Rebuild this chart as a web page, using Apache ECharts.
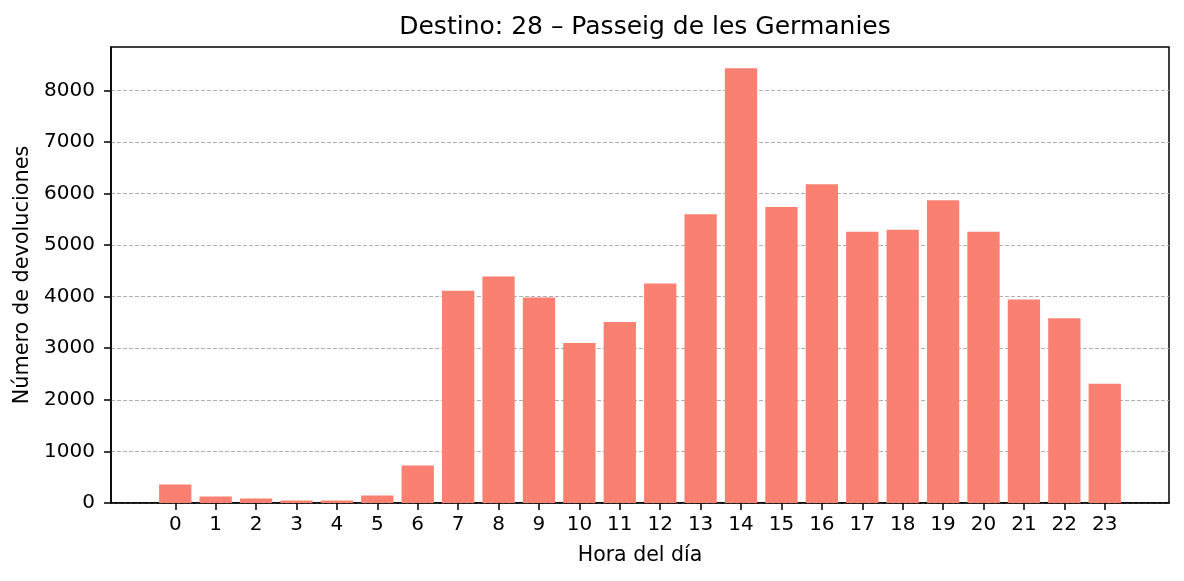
<!DOCTYPE html>
<html>
<head>
<meta charset="utf-8">
<script src="https://cdn.jsdelivr.net/npm/echarts@6/dist/echarts.min.js"></script>
<style>
html,body{margin:0;padding:0;background:#fff;}
#chart{width:1184px;height:581px;}
</style>
</head>
<body>
<div id="chart"></div>
<script>
const hours = [0,1,2,3,4,5,6,7,8,9,10,11,12,13,14,15,16,17,18,19,20,21,22,23];
const devoluciones = [358,126,87,50,48,145,727,4115,4390,3985,3100,3508,4255,5600,8430,5740,6180,5257,5295,5871,5257,3945,3580,2310];
const yTicks = [0,1000,2000,3000,4000,5000,6000,7000,8000];
const titleText = 'Destino: 28 – Passeig de les Germanies';
const xName = 'Hora del día';
const yName = 'Número de devoluciones';

const font = 'DejaVu Sans';
const chart = echarts.init(document.getElementById('chart'), null, {renderer:'canvas'});
chart.setOption({
  animation:false,
  backgroundColor:'#ffffff',
  title:{
    text:titleText, left:640, top:10, textAlign:'center',
    textStyle:{fontFamily:font, fontSize:25, fontWeight:'normal', color:'#000'}
  },
  grid:{left:111, right:15, top:47, bottom:78, show:true, borderColor:'#000', borderWidth:1.5, backgroundColor:'transparent'},
  xAxis:{
    type:'value', min:-1.59, max:24.59,
    name:xName, nameLocation:'middle', nameGap:42,
    nameTextStyle:{fontFamily:font, fontSize:20.5, color:'#000'},
    axisLine:{show:true, onZero:false, lineStyle:{color:'#000', width:1.5}},
    axisTick:{show:true, length:7, customValues:hours, lineStyle:{color:'#000', width:1.5}},
    axisLabel:{customValues:hours, fontFamily:font, fontSize:20, color:'#000', margin:12},
    splitLine:{show:false}
  },
  yAxis:{
    type:'value', min:0, max:8840, interval:1000,
    name:yName, nameLocation:'middle', nameGap:74, nameRotate:90,
    nameTextStyle:{fontFamily:font, fontSize:20.8, color:'#000'},
    axisLine:{show:true, onZero:false, lineStyle:{color:'#000', width:1.5}},
    axisTick:{show:true, length:7, customValues:yTicks, lineStyle:{color:'#000', width:1.5}},
    axisLabel:{customValues:yTicks, fontFamily:font, fontSize:20, color:'#000', margin:16, formatter:v=>String(v)},
    splitLine:{show:true, lineStyle:{color:'#b0b0b0', width:1, type:[4,2]}}
  },
  series:[{
    type:'bar',
    data:hours.map((h,i)=>[h, devoluciones[i]]),
    barWidth:32.3,
    itemStyle:{color:'#FA8072'}
  }]
});
</script>
</body>
</html>
